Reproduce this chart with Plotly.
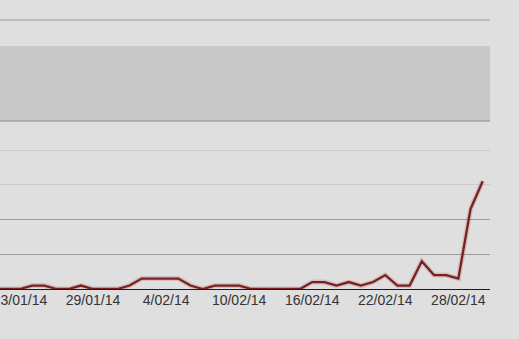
import plotly.graph_objects as go
import pandas as pd

dates = pd.date_range("2014-01-21", "2014-03-02", freq="D")
values = [0, 0, 0, 1, 1, 0, 0, 1, 0, 0, 0, 1, 3, 3, 3, 3, 1, 0, 1, 1, 1,
          0, 0, 0, 0, 0, 2, 2, 1, 2, 1, 2, 4, 1, 1, 8, 4, 4, 3, 23, 31]
grid_dark = [10, 20]
grid_light = [30, 40]

BG = "#dfdfdf"
H = 339
top_px, bot_px = 20, 289
ph = bot_px - top_px
unit = 3.475  # px per y unit
ymax = 42

def py(p):
    return (bot_px - p) / ph

fig = go.Figure()
fig.add_trace(go.Scatter(x=dates, y=values, mode="lines",
                         line=dict(color="rgba(160,60,60,0.2)", width=5),
                         hoverinfo="skip", showlegend=False))
fig.add_trace(go.Scatter(x=dates, y=values, mode="lines",
                         line=dict(color="#7a2020", width=2.3),
                         showlegend=False))
fig.add_trace(go.Scatter(x=[dates[0]], y=[None], yaxis="y3",
                         mode="lines", showlegend=False, hoverinfo="skip"))

fig.update_layout(
    width=519, height=H,
    margin=dict(l=0, r=29, t=top_px, b=H - bot_px, autoexpand=False),
    paper_bgcolor=BG, plot_bgcolor=BG,
    xaxis=dict(range=["2014-01-21 08:38", "2014-03-02 14:24"],
               tick0="2014-01-23", dtick=6 * 86400000,
               tickformat="%-d/%m/%y", showgrid=False, zeroline=False,
               showline=True, linecolor="#1a1a1a", linewidth=1,
               ticks="", ticklen=0, ticklabeloverflow="allow", automargin=False,
               ticklabelstandoff=-2,
               tickfont=dict(family="Liberation Sans, Arial", size=14, color="#333333")),
    yaxis=dict(domain=[0, py(bot_px - ymax * unit)], range=[0, ymax], tickvals=grid_dark,
               showticklabels=False, gridcolor="#9b9b9b", gridwidth=1,
               zeroline=False, showline=False, automargin=False),
    yaxis3=dict(overlaying="y", range=[0, ymax], tickvals=grid_light,
                showticklabels=False, gridcolor="#cbcbcb", gridwidth=1.3,
                zeroline=False, showline=False, automargin=False),
    shapes=[
        dict(type="rect", xref="paper", yref="paper", x0=0, x1=1,
             y0=py(121), y1=py(46), fillcolor="#c8c8c8", line_width=0, layer="below"),
        dict(type="line", xref="paper", yref="paper", x0=0, x1=1,
             y0=py(121), y1=py(121), line=dict(color="#8a8a8a", width=1.2)),
        dict(type="line", xref="paper", yref="paper", x0=0, x1=1,
             y0=1, y1=1, line=dict(color="#9a9a9a", width=1.2)),
    ],
)
fig.write_html("out.html")
